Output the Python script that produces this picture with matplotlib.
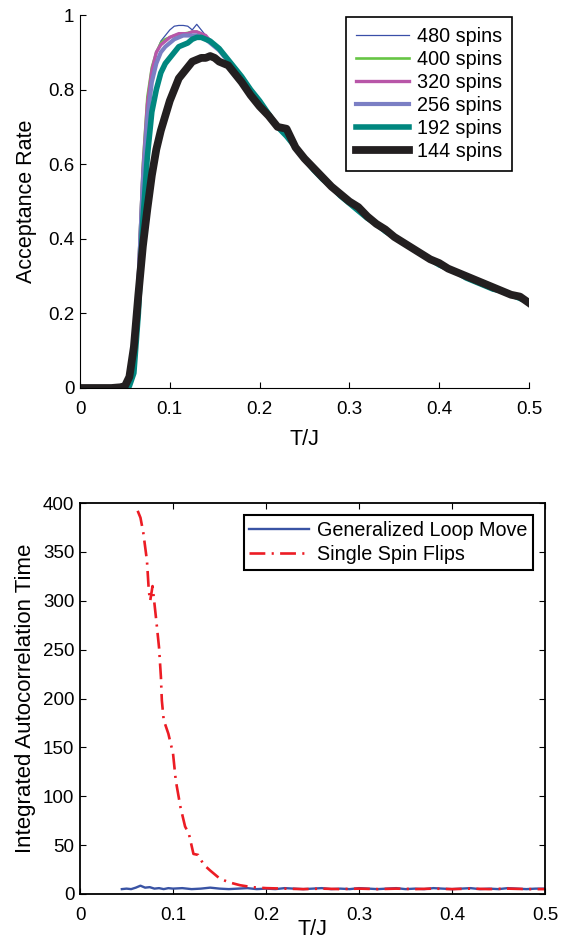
import numpy as np
import matplotlib
matplotlib.use('Agg')
import matplotlib.pyplot as plt

plt.rcParams['font.family'] = ['Liberation Sans', 'DejaVu Sans']
plt.rcParams['font.size'] = 13.5

# ---- top panel: acceptance rate vs T/J ----
T_top = [0.005, 0.015, 0.025, 0.035, 0.045,
         0.05, 0.055, 0.06, 0.065, 0.07, 0.075, 0.08, 0.085, 0.09, 0.095,
         0.10, 0.105, 0.11, 0.115, 0.12, 0.125, 0.13, 0.135, 0.14, 0.145,
         0.15, 0.155, 0.16, 0.165, 0.17, 0.175, 0.18,
         0.19, 0.20, 0.21, 0.22, 0.23, 0.24, 0.25, 0.26, 0.27, 0.28, 0.29,
         0.30, 0.31, 0.32, 0.33, 0.34, 0.35, 0.36, 0.37, 0.38, 0.39,
         0.40, 0.41, 0.42, 0.43, 0.44, 0.45, 0.46, 0.47, 0.48, 0.49, 0.50]

tail = [0.80, 0.77, 0.735, 0.70, 0.675, 0.645, 0.615, 0.585, 0.56, 0.54, 0.515,
        0.495, 0.475, 0.455, 0.44, 0.42, 0.405, 0.39, 0.375, 0.36, 0.345,
        0.33, 0.32, 0.31, 0.295, 0.285, 0.275, 0.265, 0.26, 0.25, 0.24, 0.23]

acc_480 = [0, 0, 0, 0, 0,
           0, 0.005, 0.05, 0.35, 0.60, 0.72, 0.83, 0.90, 0.93, 0.945,
           0.96, 0.97, 0.972, 0.972, 0.97, 0.96, 0.975, 0.96, 0.945, 0.935,
           0.92, 0.905, 0.895, 0.88, 0.865, 0.85, 0.835] + tail
acc_400 = [0, 0, 0, 0, 0,
           0, 0.005, 0.05, 0.32, 0.60, 0.78, 0.86, 0.90, 0.925, 0.935,
           0.94, 0.945, 0.948, 0.95, 0.952, 0.955, 0.955, 0.95, 0.94, 0.93,
           0.92, 0.905, 0.895, 0.88, 0.865, 0.85, 0.835] + tail
acc_320 = [0, 0, 0, 0, 0,
           0, 0.005, 0.05, 0.30, 0.58, 0.76, 0.85, 0.90, 0.92, 0.93,
           0.94, 0.945, 0.95, 0.95, 0.95, 0.955, 0.955, 0.95, 0.945, 0.93,
           0.92, 0.905, 0.895, 0.88, 0.865, 0.85, 0.835] + tail
acc_256 = [0, 0, 0, 0, 0,
           0, 0.005, 0.04, 0.28, 0.55, 0.72, 0.82, 0.87, 0.90, 0.915,
           0.925, 0.935, 0.94, 0.945, 0.945, 0.945, 0.945, 0.94, 0.935, 0.925,
           0.915, 0.905, 0.89, 0.88, 0.865, 0.85, 0.835] + tail
acc_192 = [0, 0, 0, 0, 0,
           0, 0.005, 0.04, 0.20, 0.45, 0.62, 0.74, 0.80, 0.845, 0.87,
           0.885, 0.90, 0.915, 0.92, 0.925, 0.935, 0.94, 0.94, 0.935, 0.93,
           0.92, 0.91, 0.895, 0.88, 0.865, 0.85, 0.835] + tail
acc_144 = [0, 0, 0, 0, 0.002,
           0.005, 0.03, 0.11, 0.25, 0.38, 0.48, 0.57, 0.64, 0.69, 0.73,
           0.77, 0.80, 0.83, 0.845, 0.86, 0.875, 0.88, 0.885, 0.885, 0.89,
           0.885, 0.875, 0.87, 0.865, 0.85, 0.835, 0.82,
           0.785, 0.755, 0.73, 0.70, 0.695, 0.645, 0.615, 0.59, 0.565, 0.54, 0.52,
           0.50, 0.485, 0.46, 0.44, 0.425, 0.405, 0.39, 0.375, 0.36, 0.345,
           0.335, 0.32, 0.31, 0.30, 0.29, 0.28, 0.27, 0.26, 0.25, 0.245, 0.228]

labels_top = ['480 spins', '400 spins', '320 spins', '256 spins', '192 spins', '144 spins']
colors_top = ['#3a4fa8', '#66c544', '#b856a8', '#7b7fc4', '#00877f', '#231f20']
widths_top = [0.9, 1.9, 2.4, 3.0, 4.0, 5.6]

# ---- bottom panel: autocorrelation time ----
loop_T = [0.045, 0.05, 0.055, 0.06, 0.065, 0.07, 0.075, 0.08, 0.085, 0.09, 0.095,
          0.10, 0.11, 0.12, 0.13, 0.14, 0.15, 0.16, 0.17, 0.18, 0.19,
          0.20, 0.21, 0.22, 0.23, 0.24, 0.25, 0.26, 0.27, 0.28, 0.29,
          0.30, 0.31, 0.32, 0.33, 0.34, 0.35, 0.36, 0.37, 0.38, 0.39,
          0.40, 0.41, 0.42, 0.43, 0.44, 0.45, 0.46, 0.47, 0.48, 0.49, 0.50]
loop_tau = [5.0, 5.5, 5.0, 6.5, 8.5, 6.5, 7.0, 5.5, 6.0, 5.0, 6.0,
            5.5, 6.0, 5.0, 5.5, 6.5, 5.5, 5.0, 5.5, 6.0, 5.0,
            5.5, 5.0, 6.0, 5.5, 5.0, 5.5, 6.0, 5.0, 5.5, 5.0,
            6.0, 5.5, 5.0, 5.5, 6.0, 5.0, 5.5, 5.0, 6.0, 5.5,
            5.0, 5.5, 6.0, 5.0, 5.5, 5.0, 6.0, 5.5, 5.0, 5.5, 5.5]

flip_T = [0.062, 0.065, 0.068, 0.072, 0.074, 0.0755, 0.078, 0.082, 0.085, 0.087,
          0.088, 0.09, 0.095, 0.10, 0.103, 0.108, 0.113, 0.117, 0.122, 0.127,
          0.133, 0.14, 0.15, 0.16, 0.172, 0.185, 0.20, 0.22, 0.24, 0.26, 0.28,
          0.30, 0.32, 0.34, 0.36, 0.38, 0.40, 0.42, 0.44, 0.46, 0.48, 0.50]
flip_tau = [392, 385, 370, 341, 310, 300, 315, 280, 252, 222,
            198, 178, 164, 144, 116, 89, 69, 62, 41, 40,
            30, 24, 16, 12, 9, 7, 6, 5.5, 5.0, 5.5, 5.0,
            5.5, 5.0, 5.5, 5.0, 5.5, 5.0, 5.5, 5.0, 5.5, 5.0, 5.0]

fig = plt.figure(figsize=(5.65, 9.43), dpi=100)

ax1 = fig.add_axes([80 / 565, 1 - 388 / 943, 449 / 565, 373 / 943])
for y, lab, c, w in zip([acc_480, acc_400, acc_320, acc_256, acc_192, acc_144],
                        labels_top, colors_top, widths_top):
    ax1.plot(T_top, y, color=c, lw=w, label=lab, solid_joinstyle='round')
ax1.set_xlim(0, 0.5)
ax1.set_ylim(0, 1)
ax1.set_xticks([0, 0.1, 0.2, 0.3, 0.4, 0.5])
ax1.set_xticklabels(['0', '0.1', '0.2', '0.3', '0.4', '0.5'])
ax1.set_yticks([0, 0.2, 0.4, 0.6, 0.8, 1])
ax1.set_yticklabels(['0', '0.2', '0.4', '0.6', '0.8', '1'])
ax1.spines['top'].set_visible(False)
ax1.spines['right'].set_visible(False)
ax1.tick_params(direction='in', length=4, width=0.8, pad=4, labelsize=13.5)
ax1.tick_params(axis='x', pad=9)
ax1.set_xlabel('T/J', labelpad=8, fontsize=15.5)
ax1.set_ylabel('Acceptance Rate', labelpad=8, fontsize=15.5)
leg1 = ax1.legend(loc='upper right', bbox_to_anchor=(0.985, 1.02), handlelength=2.7,
                  handletextpad=0.4, borderpad=0.5, labelspacing=0.2,
                  fancybox=False, edgecolor='black', framealpha=1, fontsize=14.2)
leg1.get_frame().set_linewidth(1.2)

ax2 = fig.add_axes([80 / 565, 1 - 894 / 943, 465 / 565, 391 / 943])
ax2.plot(loop_T, loop_tau, color='#3953a4', lw=1.7, label='Generalized Loop Move')
ax2.plot(flip_T, flip_tau, color='#ec1c24', lw=1.9, dashes=(6, 2.4, 0.8, 2.4),
         label='Single Spin Flips')
ax2.set_xlim(0, 0.5)
ax2.set_ylim(0, 400)
ax2.set_xticks([0, 0.1, 0.2, 0.3, 0.4, 0.5])
ax2.set_xticklabels(['0', '0.1', '0.2', '0.3', '0.4', '0.5'])
ax2.set_yticks(np.arange(0, 401, 50))
for s in ax2.spines.values():
    s.set_linewidth(1.3)
ax2.tick_params(direction='in', length=4, width=0.8, top=True, right=True, pad=4,
                labelsize=13.5)
ax2.tick_params(axis='x', pad=9)
ax2.set_xlabel('T/J', labelpad=-3, fontsize=15.5)
ax2.set_ylabel('Integrated Autocorrelation Time', labelpad=5, fontsize=16)
leg2 = ax2.legend(loc='upper right', bbox_to_anchor=(0.995, 0.995), handlelength=3.0,
                  handletextpad=0.4, borderpad=0.3, labelspacing=0.25,
                  fancybox=False, edgecolor='black', framealpha=1, fontsize=14.2)
leg2.get_frame().set_linewidth(1.5)

fig.savefig('out.png', dpi=100)
